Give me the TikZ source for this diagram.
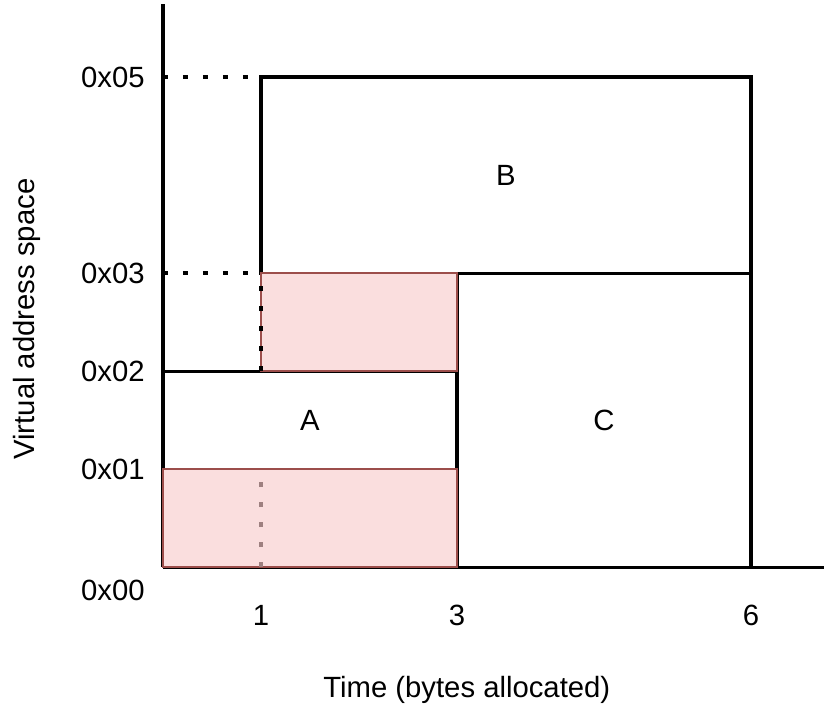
\documentclass[tikz,border=0pt]{standalone}
\usepackage{fontspec}
\setmainfont{Liberation Sans}
\usetikzlibrary{positioning}

\definecolor{freefill}{HTML}{FADEDE}
\definecolor{freeline}{HTML}{9C4E4B}
\definecolor{freedot}{HTML}{9E8080}

\tikzset{
  block/.style = {draw=black, line width=0.9pt, inner sep=0pt, outer sep=0pt},
  freed/.style = {draw=freeline, fill=freefill, line width=0.8pt, inner sep=0pt, outer sep=0pt},
  guide/.style = {line width=1.4pt, dash pattern=on 1.4pt off 4.4pt}
}

\begin{document}
\begin{tikzpicture}[x=1cm, y=1cm, font=\fontsize{8.5}{10}\selectfont]
                \useasboundingbox (-1.663,-1.612) rectangle (6.816,5.786);

                % axes
                \coordinate (o) at (0,0);
                \coordinate (ytop) at (0,5.745);
                \coordinate (xend) at (6.745,0);
                \coordinate (y3) at (0,3);
                \coordinate (y5) at (0,5);
                \begin{scope}[every edge/.style={draw=black, line width=0.9pt}]
                  \path (o) edge (ytop);
                  \path (o) edge (xend);
                \end{scope}

                % allocations
                \node[block, minimum width=5cm, minimum height=2cm] (b) at (3.5,4) {B};
                \node[block, minimum width=3cm, minimum height=3cm] (c) at (4.5,1.5) {C};
                \node[block, minimum width=3cm, minimum height=1cm] (a) at (1.5,1.5) {A};
                \node[freed, minimum width=3cm, minimum height=1cm] (f0) at (1.5,0.5) {};
                \node[freed, minimum width=2cm, minimum height=1cm] (f2) at (2,2.5) {};

                % guides
                \draw[guide] (y5) -- (b.north west);
                \draw[guide] (y3) -- (b.south west);
                \draw[guide, xshift=-0.8pt] (f2.south west) -- (f2.north west);
                \draw[guide, freedot, xshift=-0.4pt] (f0.south west -| f2.south west) -- (f0.north west -| f2.south west);

                % labels
                \begin{scope}[every node/.style={anchor=east, inner sep=0pt}]
                  \node (l0) at (-0.18,-0.235) {0x00};
                  \node (l1) at (-0.18,1) {0x01};
                  \node (l2) at (-0.18,2) {0x02};
                  \node (l3) at (-0.18,3) {0x03};
                  \node (l5) at (-0.18,5) {0x05};
                \end{scope}
                \begin{scope}[every node/.style={inner sep=0pt}]
                  \node (t1) at (1,-0.49) {1};
                  \node (t3) at (3,-0.49) {3};
                  \node (t6) at (6,-0.49) {6};
                \end{scope}
                \node (xlab) at (3.10,-1.255) {Time (bytes allocated)};
                \node[rotate=90] (ylab) at (-1.39,2.53) {Virtual address space};
              \end{tikzpicture}
\end{document}
